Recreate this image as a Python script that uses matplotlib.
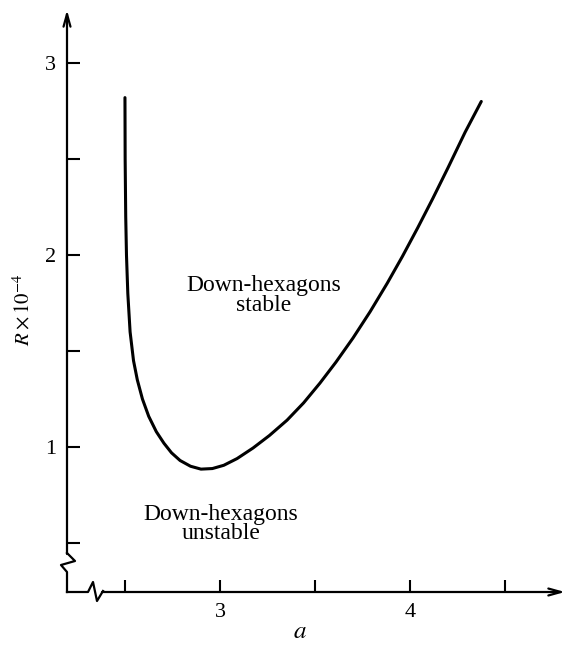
import numpy as np
import matplotlib
matplotlib.use('Agg')
import matplotlib.pyplot as plt

plt.rcParams['font.family'] = ['Liberation Serif', 'DejaVu Serif']
plt.rcParams['mathtext.fontset'] = 'stix'

# curve separating the stable / unstable regions
a_vals = [2.500, 2.501, 2.504, 2.508, 2.515, 2.527, 2.545, 2.565, 2.592, 2.625,
          2.665, 2.705, 2.745, 2.790, 2.845, 2.900, 2.960, 3.020, 3.090, 3.174,
          3.260, 3.353, 3.440, 3.526, 3.610, 3.700, 3.790, 3.880, 3.960, 4.040,
          4.120, 4.200, 4.290, 4.375]
R_vals = [2.820, 2.500, 2.200, 2.000, 1.800, 1.600, 1.450, 1.350, 1.250, 1.160,
          1.080, 1.020, 0.970, 0.930, 0.900, 0.885, 0.888, 0.905, 0.940, 0.995,
          1.060, 1.140, 1.230, 1.333, 1.442, 1.568, 1.705, 1.853, 1.993, 2.141,
          2.295, 2.455, 2.640, 2.800]

x_major = [3, 4]
x_minor = [2.5, 3.5, 4.5]
y_major = [1, 2, 3]
y_minor = [0.5, 1.5, 2.5]
x_lim = (2.195, 4.805)
y_lim = (0.245, 3.266)

labels = ['Down-hexagons\nstable', 'Down-hexagons\nunstable']
label_pos = [(3.23, 1.79), (3.005, 0.60)]

fig = plt.figure(figsize=(5.66, 6.45), dpi=100)
ax = fig.add_axes([67 / 566, 53 / 645, 496 / 566, 580 / 645])
ax.set_xlim(*x_lim)
ax.set_ylim(*y_lim)
for s in ax.spines.values():
    s.set_visible(False)

ax.plot(a_vals, R_vals, color='black', lw=2.2, solid_capstyle='round',
        solid_joinstyle='round')

# axes drawn by hand (broken near the origin), in axes fraction
W, H = 496.0, 580.0
def px(x, y):
    return x / W, y / H

arrow = dict(arrowstyle='->,head_length=0.9,head_width=0.25',
             lw=1.6, color='black', shrinkA=0, shrinkB=0)

yb = [px(0, 0), px(0, 20), px(-6, 27), px(8, 31), px(0, 39)]
ax.plot([p[0] for p in yb], [p[1] for p in yb], color='black', lw=1.6,
        transform=ax.transAxes, clip_on=False)
ax.annotate('', xy=px(0, 582), xytext=px(0, 38), xycoords='axes fraction',
            arrowprops=arrow)
xb = [px(0, 0), px(21, 0), px(26, 10), px(30, -9), px(36, 1)]
ax.plot([p[0] for p in xb], [p[1] for p in xb], color='black', lw=1.6,
        transform=ax.transAxes, clip_on=False)
ax.annotate('', xy=px(498, 0), xytext=px(35, 0), xycoords='axes fraction',
            arrowprops=arrow)

ax.set_xticks(x_major)
ax.set_xticks(x_minor, minor=True)
ax.set_yticks(y_major)
ax.set_yticks(y_minor, minor=True)
ax.set_xticklabels([str(v) for v in x_major])
ax.set_yticklabels([str(v) for v in y_major])
ax.tick_params(which='both', direction='in', length=9, width=1.5, color='black',
               labelsize=16)
ax.tick_params(axis='x', pad=8)
ax.tick_params(axis='y', pad=8)

ax.set_xlabel('$a$', fontsize=18, va='center')
ax.xaxis.set_label_coords((300 - 67) / W, -40 / H)
ax.set_ylabel(r'$R \times 10^{-4}$', fontsize=15, va='center')
ax.yaxis.set_label_coords(-43 / W, 282 / H)

for txt, (xa, ya) in zip(labels, label_pos):
    ax.text(xa, ya, txt, ha='center', va='center', fontsize=17, linespacing=0.9)

fig.savefig('out.png', dpi=100)
